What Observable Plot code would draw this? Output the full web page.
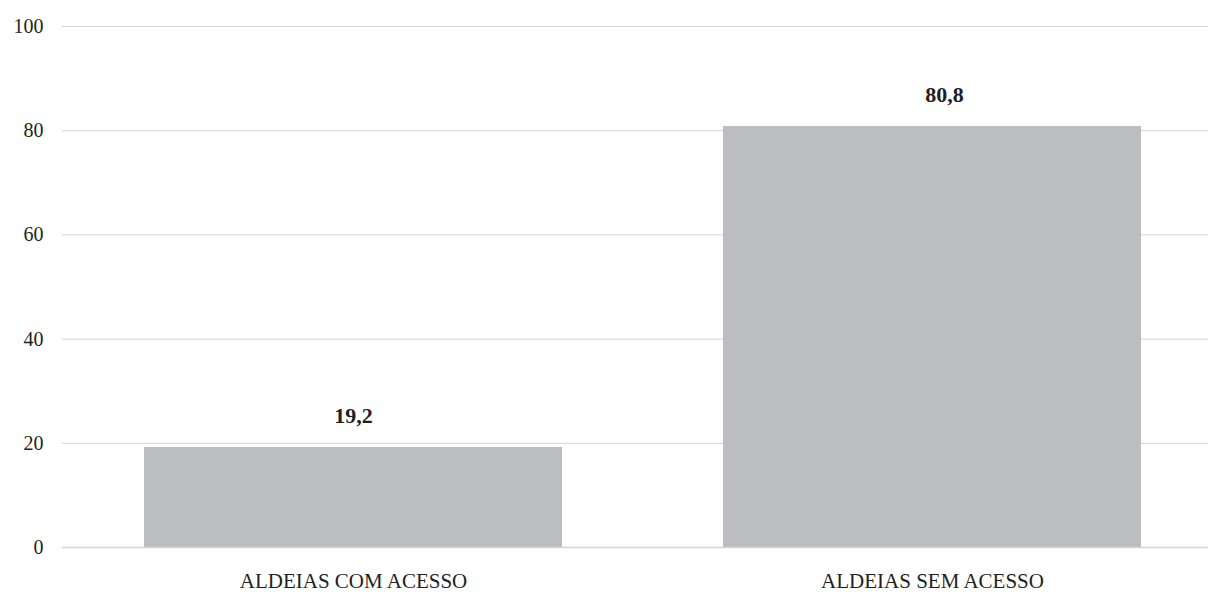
<!DOCTYPE html>
<html>
<head>
<meta charset="utf-8">
<script src="https://cdn.jsdelivr.net/npm/d3@7"></script>
<script src="https://cdn.jsdelivr.net/npm/@observablehq/plot@0.6"></script>
<style>
  html, body { margin: 0; padding: 0; background: #fff; }
  #chart svg { display: block; }
  #chart svg, #chart svg text { font-family: "Liberation Serif", "Times New Roman", serif !important; }
</style>
</head>
<body>
<div id="chart"></div>
<script>
const categories = ["ALDEIAS COM ACESSO", "ALDEIAS SEM ACESSO"];
const values = [19.2, 80.8];
const valueLabels = ["19,2", "80,8"];
const yTicks = [0, 20, 40, 60, 80, 100];

const data = categories.map((c, i) => ({cat: c, v: values[i], label: valueLabels[i]}));
const font = "Liberation Serif";

const chart = Plot.plot({
  width: 1208,
  height: 594,
  marginLeft: 62,
  marginRight: 0,
  marginTop: 26,
  marginBottom: 47,
  style: {fontFamily: font, fontSize: "20px", color: "#231f20", background: "#fff"},
  x: {domain: categories, range: [65, 1220], paddingInner: 0.278, paddingOuter: 0.136},
  y: {domain: [0, 100]},
  marks: [
    Plot.axisY({ticks: yTicks, tickSize: 0, tickPadding: 19, label: null, fontSize: 20, fontFamily: font, fill: "#231f20"}),
    Plot.gridY({ticks: yTicks, stroke: "#d4d4d4", strokeOpacity: 1, strokeWidth: 1}),
    Plot.barY(data, {x: "cat", y: "v", fill: "#bcbdc1"}),
    Plot.ruleY([0], {stroke: "#d4d4d4", strokeWidth: 1.5}),
    Plot.axisX({tickSize: 0, tickPadding: 26, label: null, fontSize: 21, fontFamily: font, fill: "#231f20"}),
    Plot.text(data.filter((d, i) => i === 0), {x: "cat", y: "v", text: "label", dy: -32, fontWeight: "bold", fontSize: 22, fontFamily: font, fill: "#231f20"}),
    Plot.text(data.filter((d, i) => i === 1), {x: "cat", y: "v", text: "label", dy: -32, dx: 12, fontWeight: "bold", fontSize: 22, fontFamily: font, fill: "#231f20"})
  ]
});
document.getElementById("chart").appendChild(chart);
</script>
</body>
</html>
